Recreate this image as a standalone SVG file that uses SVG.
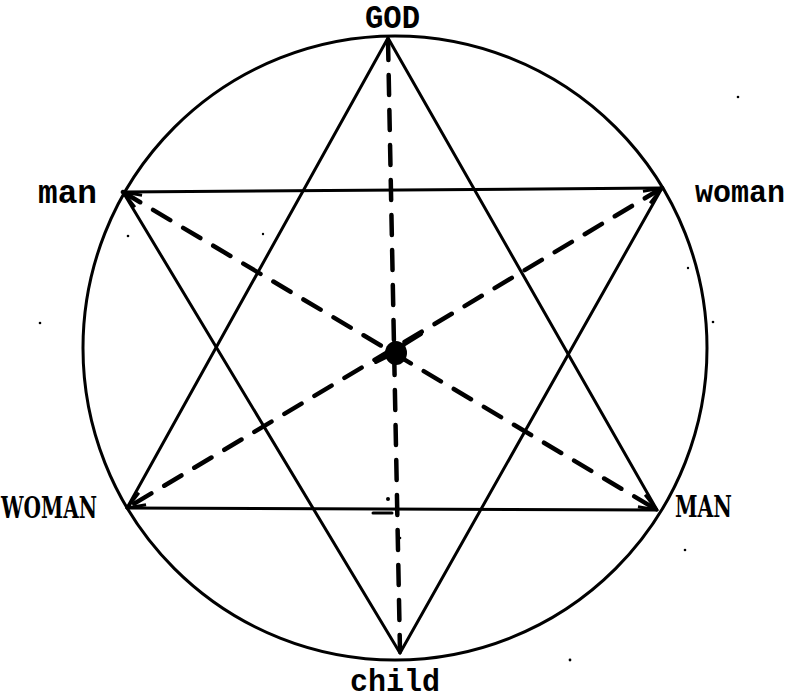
<svg xmlns="http://www.w3.org/2000/svg" width="795" height="700" viewBox="0 0 795 700">
<style>
.solid{stroke:#000;stroke-width:3;fill:none;stroke-linecap:round}
.dash{stroke:#000;stroke-width:4.5;fill:none;stroke-dasharray:20 15;stroke-linecap:round}
.mono{font-family:"Liberation Mono","Courier New",monospace;font-weight:bold;fill:#000}
.serif{font-family:"DejaVu Serif","Liberation Serif",serif;font-weight:bold;fill:#000}
.dot{fill:#000}
</style>
<defs>
<marker id="arr" viewBox="0 0 20 20" refX="19" refY="10" markerWidth="20" markerHeight="20" markerUnits="userSpaceOnUse" orient="auto-start-reverse">
<path d="M1,3 L19,10 L1,17" fill="none" stroke="#000" stroke-width="3" stroke-dasharray="none"/>
</marker>
</defs>
<rect width="795" height="700" fill="#fff"/>
<g id="circle"><circle cx="395" cy="348" r="312" class="solid"/></g>
<g id="connectors">
<path class="solid" d="M388,38 L127,508"/>
<path class="solid" d="M388,38 L657,510"/>
<path class="solid" d="M127,508 L657,510"/>
<path class="solid" d="M400,653 L123,192"/>
<path class="solid" d="M400,653 L662,188"/>
<path class="solid" d="M123,192 L662,188"/>
<path class="dash" d="M388,40 L400,651"/>
<path class="dash" d="M123,192 L657,510" marker-start="url(#arr)" marker-end="url(#arr)"/>
<path class="dash" d="M662,188 L127,508" marker-start="url(#arr)" marker-end="url(#arr)"/>
<path class="solid" d="M373,513 L392,513"/>
</g>
<g id="center">
<ellipse cx="396" cy="353" rx="11" ry="12" fill="#000"/>
<path d="M376,362 L392,354 M400,347 L421,334" stroke="#000" stroke-width="4" stroke-linecap="round"/>
</g>
<g id="GOD"><text class="mono" x="365" y="28" font-size="34" textLength="55" lengthAdjust="spacingAndGlyphs">GOD</text></g>
<g id="man"><text class="mono" x="38" y="203" font-size="34" textLength="59" lengthAdjust="spacingAndGlyphs">man</text></g>
<g id="woman"><text class="mono" x="695" y="202" font-size="31" textLength="90" lengthAdjust="spacingAndGlyphs">woman</text></g>
<g id="child"><text class="mono" x="350" y="691" font-size="32" textLength="90" lengthAdjust="spacingAndGlyphs">child</text></g>
<g id="WOMAN"><text class="serif" x="1" y="518" font-size="30" textLength="96" lengthAdjust="spacingAndGlyphs">WOMAN</text></g>
<g id="MAN"><text class="serif" x="675" y="517" font-size="30" textLength="57" lengthAdjust="spacingAndGlyphs">MAN</text></g>
<g id="specks">
<circle class="dot" cx="738" cy="97" r="1.3"/>
<circle class="dot" cx="128" cy="236" r="1.3"/>
<circle class="dot" cx="263" cy="234" r="1.2"/>
<circle class="dot" cx="688" cy="268" r="1.2"/>
<circle class="dot" cx="713" cy="322" r="1.3"/>
<circle class="dot" cx="40" cy="323" r="1.3"/>
<circle class="dot" cx="685" cy="550" r="1.3"/>
<circle class="dot" cx="570" cy="660" r="1.4"/>
<circle class="dot" cx="400" cy="538" r="1.3"/>
<circle class="dot" cx="388" cy="499" r="2"/>
</g>
</svg>
